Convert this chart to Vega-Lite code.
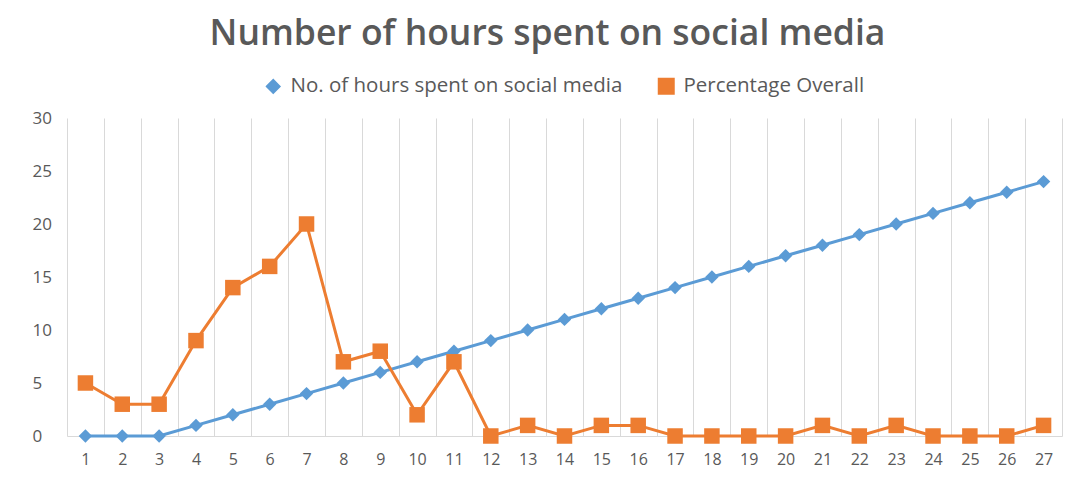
{
  "$schema": "https://vega.github.io/schema/vega-lite/v6.json",
  "width": 995,
  "height": 318,
  "autosize": "none",
  "padding": {"left": 67, "top": 118, "right": 12, "bottom": 50},
  "background": "white",
  "title": {
    "text": "Number of hours spent on social media",
    "fontSize": 35.5,
    "font": "Open Sans",
    "fontWeight": 600,
    "color": "#595959",
    "anchor": "middle",
    "baseline": "alphabetic",
    "offset": -4,
    "dx": -17
  },
  "data": {
    "values": [
      {"x": 1, "series": "No. of hours spent on social media", "value": 0},
      {"x": 2, "series": "No. of hours spent on social media", "value": 0},
      {"x": 3, "series": "No. of hours spent on social media", "value": 0},
      {"x": 4, "series": "No. of hours spent on social media", "value": 1},
      {"x": 5, "series": "No. of hours spent on social media", "value": 2},
      {"x": 6, "series": "No. of hours spent on social media", "value": 3},
      {"x": 7, "series": "No. of hours spent on social media", "value": 4},
      {"x": 8, "series": "No. of hours spent on social media", "value": 5},
      {"x": 9, "series": "No. of hours spent on social media", "value": 6},
      {"x": 10, "series": "No. of hours spent on social media", "value": 7},
      {"x": 11, "series": "No. of hours spent on social media", "value": 8},
      {"x": 12, "series": "No. of hours spent on social media", "value": 9},
      {"x": 13, "series": "No. of hours spent on social media", "value": 10},
      {"x": 14, "series": "No. of hours spent on social media", "value": 11},
      {"x": 15, "series": "No. of hours spent on social media", "value": 12},
      {"x": 16, "series": "No. of hours spent on social media", "value": 13},
      {"x": 17, "series": "No. of hours spent on social media", "value": 14},
      {"x": 18, "series": "No. of hours spent on social media", "value": 15},
      {"x": 19, "series": "No. of hours spent on social media", "value": 16},
      {"x": 20, "series": "No. of hours spent on social media", "value": 17},
      {"x": 21, "series": "No. of hours spent on social media", "value": 18},
      {"x": 22, "series": "No. of hours spent on social media", "value": 19},
      {"x": 23, "series": "No. of hours spent on social media", "value": 20},
      {"x": 24, "series": "No. of hours spent on social media", "value": 21},
      {"x": 25, "series": "No. of hours spent on social media", "value": 22},
      {"x": 26, "series": "No. of hours spent on social media", "value": 23},
      {"x": 27, "series": "No. of hours spent on social media", "value": 24},
      {"x": 1, "series": "Percentage Overall", "value": 5},
      {"x": 2, "series": "Percentage Overall", "value": 3},
      {"x": 3, "series": "Percentage Overall", "value": 3},
      {"x": 4, "series": "Percentage Overall", "value": 9},
      {"x": 5, "series": "Percentage Overall", "value": 14},
      {"x": 6, "series": "Percentage Overall", "value": 16},
      {"x": 7, "series": "Percentage Overall", "value": 20},
      {"x": 8, "series": "Percentage Overall", "value": 7},
      {"x": 9, "series": "Percentage Overall", "value": 8},
      {"x": 10, "series": "Percentage Overall", "value": 2},
      {"x": 11, "series": "Percentage Overall", "value": 7},
      {"x": 12, "series": "Percentage Overall", "value": 0},
      {"x": 13, "series": "Percentage Overall", "value": 1},
      {"x": 14, "series": "Percentage Overall", "value": 0},
      {"x": 15, "series": "Percentage Overall", "value": 1},
      {"x": 16, "series": "Percentage Overall", "value": 1},
      {"x": 17, "series": "Percentage Overall", "value": 0},
      {"x": 18, "series": "Percentage Overall", "value": 0},
      {"x": 19, "series": "Percentage Overall", "value": 0},
      {"x": 20, "series": "Percentage Overall", "value": 0},
      {"x": 21, "series": "Percentage Overall", "value": 1},
      {"x": 22, "series": "Percentage Overall", "value": 0},
      {"x": 23, "series": "Percentage Overall", "value": 1},
      {"x": 24, "series": "Percentage Overall", "value": 0},
      {"x": 25, "series": "Percentage Overall", "value": 0},
      {"x": 26, "series": "Percentage Overall", "value": 0},
      {"x": 27, "series": "Percentage Overall", "value": 1}
    ]
  },
  "encoding": {
    "x": {
      "field": "x",
      "type": "ordinal",
      "scale": {"type": "band", "paddingInner": 0, "paddingOuter": 0},
      "axis": {
        "title": null,
        "labelAngle": 0,
        "labelFontSize": 16,
        "labelFont": "Open Sans",
        "labelColor": "#595959",
        "labelPadding": 15,
        "ticks": false,
        "tickBand": "extent",
        "grid": true,
        "gridColor": "#d9d9d9",
        "gridWidth": 1,
        "domainColor": "#d9d9d9",
        "domainWidth": 1
      }
    },
    "y": {
      "field": "value",
      "type": "quantitative",
      "scale": {"domain": [0, 30]},
      "axis": {
        "title": null,
        "values": [0, 5, 10, 15, 20, 25, 30],
        "grid": false,
        "domain": false,
        "ticks": false,
        "labelFontSize": 17,
        "labelFont": "Open Sans",
        "labelColor": "#595959",
        "labelAlign": "left",
        "labelPadding": 35
      }
    },
    "color": {
      "field": "series",
      "type": "nominal",
      "scale": {
        "domain": ["No. of hours spent on social media", "Percentage Overall"],
        "range": ["#5b9bd5", "#ed7d31"]
      },
      "legend": {
        "title": null,
        "orient": "none",
        "legendX": 196,
        "legendY": -42,
        "direction": "horizontal",
        "labelFontSize": 20.5,
        "labelFont": "Open Sans",
        "labelColor": "#595959",
        "labelLimit": 0,
        "labelOffset": 7,
        "symbolSize": 196,
        "columnPadding": 32,
        "encode": {
          "symbols": {
            "enter": {
              "shape": {
                "signal": "datum.value === 'Percentage Overall' ? 'M-1.5,-0.22L1.5,-0.22L1.5,0.22L-1.5,0.22Z M-1,-1L1,-1L1,1L-1,1Z' : 'M-1.75,-0.22L1.75,-0.22L1.75,0.22L-1.75,0.22Z M-1,0L0,-1L1,0L0,1Z'"
              }
            },
            "update": {
              "shape": {
                "signal": "datum.value === 'Percentage Overall' ? 'M-1.5,-0.22L1.5,-0.22L1.5,0.22L-1.5,0.22Z M-1,-1L1,-1L1,1L-1,1Z' : 'M-1.75,-0.22L1.75,-0.22L1.75,0.22L-1.75,0.22Z M-1,0L0,-1L1,0L0,1Z'"
              }
            }
          }
        }
      }
    }
  },
  "layer": [
    {
      "mark": {"type": "line", "strokeWidth": 3}
    },
    {
      "mark": {"type": "point", "filled": true, "opacity": 1},
      "encoding": {
        "shape": {
          "field": "series",
          "type": "nominal",
          "scale": {
            "domain": ["No. of hours spent on social media", "Percentage Overall"],
            "range": ["diamond", "square"]
          },
          "legend": null
        },
        "size": {
          "field": "series",
          "type": "nominal",
          "scale": {
            "domain": ["No. of hours spent on social media", "Percentage Overall"],
            "range": [180, 240]
          },
          "legend": null
        }
      }
    }
  ],
  "config": {"view": {"stroke": null}}
}
